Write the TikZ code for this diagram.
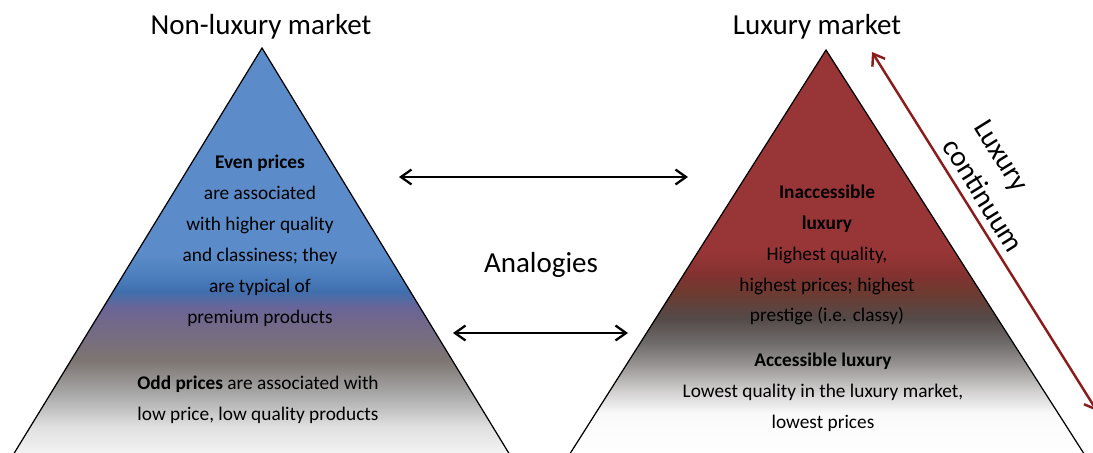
\documentclass[tikz,border=0pt]{standalone}
\usepackage{fontspec}
\setmainfont{Carlito}
\usetikzlibrary{
arrows.meta,
positioning
}
\tikzset{>={Straight Barb[length=6pt,width=8.5pt]}}

\definecolor{contred}{HTML}{8B1C1C}
\pgfdeclareverticalshading{nonluxfill}{100bp}{
  color(0bp)=(white); color(25bp)=(white!97!black);
  color(29bp)=(white!88!black); color(33.2bp)=(black!35!white);
  color(37.1bp)=(rgb,255:red,125;green,117;blue,113);
  color(41.7bp)=(rgb,255:red,114;green,104;blue,138);
  color(43.5bp)=(rgb,255:red,106;green,101;blue,152);
  color(45.5bp)=(rgb,255:red,63;green,111;blue,174);
  color(47.6bp)=(rgb,255:red,78;green,128;blue,191);
  color(50bp)=(rgb,255:red,91;green,140;blue,201);
  color(100bp)=(rgb,255:red,91;green,140;blue,201)}
\pgfdeclareverticalshading{luxfill}{100bp}{
  color(0bp)=(white); color(25bp)=(white);
  color(30.7bp)=(white!98!black); color(33.2bp)=(rgb,255:red,213;green,211;blue,211);
  color(36.5bp)=(rgb,255:red,154;green,150;blue,150);
  color(39.3bp)=(rgb,255:red,111;green,107;blue,107);
  color(42.3bp)=(rgb,255:red,84;green,74;blue,72);
  color(45.5bp)=(rgb,255:red,110;green,58;blue,48);
  color(47.6bp)=(rgb,255:red,130;green,50;blue,48);
  color(50.4bp)=(rgb,255:red,152;green,53;blue,54);
  color(100bp)=(rgb,255:red,152;green,53;blue,54)}

\begin{document}
\begin{tikzpicture}[x=0.02cm, y=-0.02cm, font=\fontsize{11}{17.6}\selectfont,
    heading/.style={font=\fontsize{16.5}{21}\selectfont},
    pyrtext/.style={align=center, inner sep=0pt},
    analogy/.style={<->, line width=1.3pt},
    continuum/.style={<->, line width=1.4pt, draw=contred}]
		\useasboundingbox (0,0) rectangle (1093,453);
		
		% the two pyramids
		\coordinate (nltop) at (262,48);
		\coordinate (ltop) at (826,50);
		\shadedraw[shading=nonluxfill, line width=0.7pt] (nltop) -- (513,460) -- (10,460) -- cycle;
		\shadedraw[shading=luxfill, line width=0.7pt] (ltop) -- (1088,460) -- (566,460) -- cycle;
		
		\node[heading] (nonlux) at (261,27) {Non-luxury market};
		\node[heading] (lux) at (817,27) {Luxury market};
		
		\node[pyrtext] (even) at (260,241) {\textbf{Even prices}\\are associated\\with higher quality\\and classiness; they\\are typical of\\premium products};
		\node[pyrtext] (odd) at (258,400) {\textbf{Odd prices} are associated with\\low price, low quality products};
		\node[pyrtext] (inacc) at (827,255) {\textbf{Inaccessible}\\\textbf{luxury}\\Highest quality,\\highest prices; highest\\prestige (i.e. classy)};
		\node[pyrtext] (acc) at (823,392) {\textbf{Accessible luxury}\\Lowest quality in the luxury market,\\lowest prices};
		
		% analogies between the markets
		\node[heading] (analogies) at (541,265) {Analogies};
		\coordinate (evenL) at (399,177);
		\coordinate (evenR) at (688,177);
		\coordinate (oddL) at (453,333);
		\coordinate (oddR) at (628,333);
		\draw[analogy] (evenL) -- (evenR);
		\draw[analogy] (oddL) -- (oddR);
		
		% luxury continuum
		\coordinate (conttop) at (872,52);
		\coordinate (contbot) at (1097,411);
		\draw[continuum] (contbot) -- (conttop);
		\node[heading, rotate=-58, align=left, inner sep=0pt] (contlabel) at (999,186) {Luxury\\continuum};
	\end{tikzpicture}
\end{document}
